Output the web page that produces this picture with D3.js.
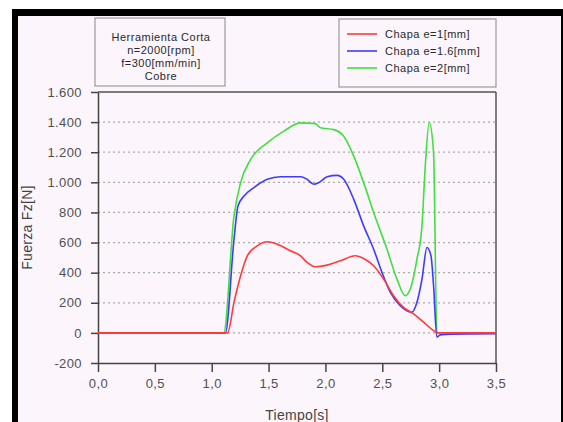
<!DOCTYPE html>
<html>
<head>
<meta charset="utf-8">
<script src="https://cdn.jsdelivr.net/npm/d3@7"></script>
<style>
	body { margin: 0; background: #fff; }
	svg { display: block; font-family: "Liberation Sans", Arial, sans-serif; }
	.tick-label { fill: #505050; font-size: 13px; letter-spacing: 0.4px; }
	.axis-label { fill: #444; font-size: 14px; letter-spacing: 0.3px; }
	.note { fill: #2a2a2a; font-size: 11px; letter-spacing: 0.5px; }
</style>
</head>
<body>
<div id="chart"></div>
<script>
// time [s] and force [N]
let t_e1 = [0, 1.14, 1.196, 1.254, 1.313, 1.401, 1.488, 1.576, 1.693, 1.781, 1.839, 1.912, 2.015, 2.132, 2.263, 2.336, 2.424, 2.512, 2.599, 2.687, 2.775, 2.863, 2.951, 2.985, 3.5];
let f_e1 = [0, 0, 203, 380, 512, 578, 605, 589, 545, 512, 468, 439, 450, 479, 512, 494, 446, 357, 247, 170, 126, 71, 15, 0, 0];

let t_e16 = [0, 1.12, 1.196, 1.231, 1.284, 1.371, 1.488, 1.605, 1.781, 1.839, 1.898, 1.942, 2.015, 2.102, 2.161, 2.249, 2.336, 2.424, 2.497, 2.571, 2.658, 2.761, 2.805, 2.849, 2.893, 2.928, 2.951, 2.98, 3.01, 3.1, 3.5];
let f_e16 = [0, 0, 622, 843, 909, 965, 1020, 1037, 1037, 1020, 987, 998, 1037, 1046, 1020, 887, 711, 556, 402, 269, 181, 137, 203, 357, 567, 512, 313, -29, -13, -8, -5];

let t_e2 = [0, 1.105, 1.196, 1.254, 1.342, 1.488, 1.634, 1.781, 1.912, 1.956, 2.073, 2.161, 2.249, 2.336, 2.424, 2.541, 2.629, 2.702, 2.746, 2.805, 2.849, 2.878, 2.913, 2.951, 2.98, 3.5];
let f_e2 = [0, 0, 777, 998, 1152, 1262, 1340, 1395, 1390, 1362, 1350, 1306, 1174, 998, 799, 556, 357, 247, 291, 490, 711, 1108, 1399, 1196, 0, 0];

let series_names = ['Chapa e=1[mm]', 'Chapa e=1.6[mm]', 'Chapa e=2[mm]'];
let series_colors = ['#ff3b3b', '#3c3cff', '#3fe03f'];
let note_lines = ['Herramienta Corta', 'n=2000[rpm]', 'f=300[mm/min]', 'Cobre'];

let y_ticks = [-200, 0, 200, 400, 600, 800, 1000, 1200, 1400, 1600];
let x_ticks = [0, 0.5, 1, 1.5, 2, 2.5, 3, 3.5];

function zip(ts, fs) {
	return ts.map(function(t, i) { return { x: t, y: fs[i] }; });
}

let data = [zip(t_e1, f_e1), zip(t_e16, f_e16), zip(t_e2, f_e2)];

let full_width = 563, full_height = 422;
let plot = { left: 98, right: 496, top: 92, bottom: 363 };

let locale = d3.formatLocale({ decimal: ',', thousands: '.', grouping: [3], currency: ['', ''], minus: '-' });
let fmt_y = locale.format(',.0f');
let fmt_x = locale.format('.1f');

let x = d3.scaleLinear().domain([0, 3.5]).range([plot.left, plot.right]);
let y = d3.scaleLinear().domain([-200, 1600]).range([plot.bottom, plot.top]);

let svg = d3.select('#chart')
	.append('svg')
	.attr('width', full_width)
	.attr('height', full_height);

// pinkish sheet with black frame
svg.append('rect')
	.attr('x', 12).attr('y', 9)
	.attr('width', full_width - 12).attr('height', full_height - 9)
	.attr('fill', '#fcf5fc');
svg.append('rect').attr('x', 12).attr('y', 9).attr('width', full_width - 12).attr('height', 7).attr('fill', '#000');
svg.append('rect').attr('x', 12).attr('y', 9).attr('width', 6).attr('height', full_height - 9).attr('fill', '#000');
svg.append('rect').attr('x', full_width - 2).attr('y', 9).attr('width', 2).attr('height', full_height - 9).attr('fill', '#000');

// dotted grid
svg.append('g')
	.selectAll('line')
	.data(y_ticks.filter(function(d) { return d > -200 && d < 1600; }))
	.enter().append('line')
	.attr('x1', plot.left).attr('x2', plot.right)
	.attr('y1', function(d) { return y(d); })
	.attr('y2', function(d) { return y(d); })
	.attr('stroke', '#aaa')
	.attr('stroke-width', 1.2)
	.attr('stroke-dasharray', '2,3');

// frame of the plot
svg.append('line')
	.attr('x1', plot.left).attr('x2', plot.right)
	.attr('y1', plot.top).attr('y2', plot.top)
	.attr('stroke', '#555').attr('stroke-width', 1.5);
svg.append('line')
	.attr('x1', plot.right).attr('x2', plot.right)
	.attr('y1', plot.top).attr('y2', plot.bottom)
	.attr('stroke', '#555').attr('stroke-width', 1.5);

// y axis
let yAxis = d3.axisLeft(y)
	.tickValues(y_ticks)
	.tickSize(7)
	.tickSizeOuter(0)
	.tickFormat(fmt_y);

let yMinor = d3.axisLeft(y)
	.tickValues(d3.range(-200, 1601, 40))
	.tickSize(3)
	.tickSizeOuter(0)
	.tickFormat('');

let gy = svg.append('g').attr('transform', 'translate(' + plot.left + ',0)');
gy.call(yMinor);
gy.call(yAxis);
gy.selectAll('path, line').attr('stroke', '#444').attr('stroke-width', 1.5);
gy.selectAll('text').attr('class', 'tick-label').attr('x', -16).attr('font-size', null).attr('fill', null).attr('font-family', null);

// x axis
let xAxis = d3.axisBottom(x)
	.tickValues(x_ticks)
	.tickSize(9)
	.tickSizeOuter(0)
	.tickFormat(fmt_x);

let xMinor = d3.axisBottom(x)
	.tickValues(d3.range(0, 36).map(function(i) { return i / 10; }))
	.tickSize(4)
	.tickSizeOuter(0)
	.tickFormat('');

let gx = svg.append('g').attr('transform', 'translate(0,' + plot.bottom + ')');
gx.call(xMinor);
gx.call(xAxis);
gx.selectAll('path, line').attr('stroke', '#444').attr('stroke-width', 1.5);
gx.selectAll('text').attr('class', 'tick-label').attr('y', 16).attr('font-size', null).attr('fill', null).attr('font-family', null);

// axis titles
svg.append('text')
	.attr('class', 'axis-label')
	.attr('transform', 'translate(32,' + ((plot.top + plot.bottom) / 2) + ') rotate(-90)')
	.attr('text-anchor', 'middle')
	.text('Fuerza Fz[N]');

svg.append('text')
	.attr('class', 'axis-label')
	.attr('x', (plot.left + plot.right) / 2)
	.attr('y', 420)
	.attr('text-anchor', 'middle')
	.text('Tiempo[s]');

// curves
let line = d3.line()
	.x(function(d) { return x(d.x); })
	.y(function(d) { return y(d.y); })
	.curve(d3.curveMonotoneX);

let order = [2, 1, 0];
order.forEach(function(i) {
	svg.append('path')
		.datum(data[i])
		.attr('fill', 'none')
		.attr('stroke', series_colors[i])
		.attr('stroke-width', 1.6)
		.attr('stroke-linejoin', 'round')
		.attr('d', line);
});

// note box
let note = svg.append('g');
note.append('rect')
	.attr('x', 95).attr('y', 18)
	.attr('width', 130).attr('height', 68)
	.attr('fill', '#fcf5fc')
	.attr('stroke', '#888').attr('stroke-width', 1);
note.selectAll('text')
	.data(note_lines)
	.enter().append('text')
	.attr('class', 'note')
	.attr('x', 161)
	.attr('y', function(d, i) { return 41 + i * 13; })
	.attr('text-anchor', 'middle')
	.text(function(d) { return d; });

// legend
let legend = svg.append('g');
legend.append('rect')
	.attr('x', 339).attr('y', 19)
	.attr('width', 157).attr('height', 68)
	.attr('fill', '#fcf5fc')
	.attr('stroke', '#888').attr('stroke-width', 1);
let item = legend.selectAll('.item')
	.data(series_names)
	.enter().append('g')
	.attr('class', 'item')
	.attr('transform', function(d, i) { return 'translate(347,' + (34 + i * 17) + ')'; });
item.append('line')
	.attr('x1', 0).attr('x2', 30)
	.attr('stroke', function(d, i) { return series_colors[i]; })
	.attr('stroke-width', 1.6);
item.append('text')
	.attr('class', 'note')
	.attr('x', 38)
	.attr('dy', '0.35em')
	.text(function(d) { return d; });
</script>
</body>
</html>
